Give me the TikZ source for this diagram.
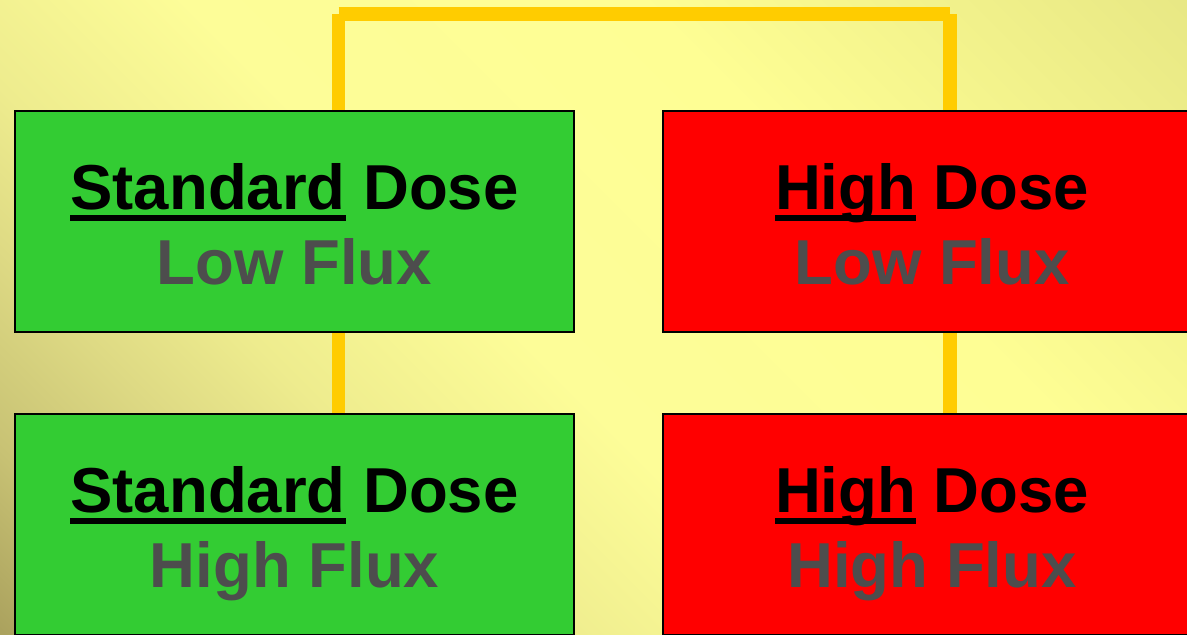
\documentclass[tikz,border=0pt]{standalone}
\usepackage{fontspec}
\setmainfont{Liberation Sans}
\usetikzlibrary{calc}
\definecolor{bgA}{HTML}{ABA25E}
\definecolor{bgB}{HTML}{C8C274}
\definecolor{bgC}{HTML}{DEDA84}
\definecolor{bgD}{HTML}{EEEC8E}
\definecolor{bgE}{HTML}{FDFD98}
\definecolor{bgF}{HTML}{FEFE94}
\definecolor{bgG}{HTML}{EAEA86}
\definecolor{bgH}{HTML}{E8E885}
\definecolor{boxgreen}{HTML}{33CC33}
\definecolor{boxred}{HTML}{FF0000}
\definecolor{fluxgray}{HTML}{4D4D4D}
\definecolor{connyellow}{HTML}{FFCC00}
\pgfdeclarehorizontalshading{slidebg}{100bp}{%
  color(0bp)=(bgA); color(14.64bp)=(bgA); color(21.71bp)=(bgB);
  color(29.49bp)=(bgC); color(35.85bp)=(bgD); color(46.46bp)=(bgE);
  color(64.14bp)=(bgF); color(83.23bp)=(bgG); color(85.35bp)=(bgH);
  color(100bp)=(bgH)}
\newcommand{\myul}[1]{\setbox0\hbox{#1}\rlap{\rule[-11pt]{\wd0}{6pt}}\box0\relax}
\tikzset{
  dosebox/.style={draw=black, line width=2pt, rectangle, inner sep=0pt,
    minimum height=221pt},
  greenbox/.style={dosebox, fill=boxgreen, minimum width=559pt},
  redbox/.style={dosebox, fill=boxred, minimum width=538pt},
  doseline/.style={font=\fontsize{63.5}{70}\selectfont\bfseries, text=black,
    anchor=base, inner sep=0pt},
  fluxline/.style={font=\fontsize{63.5}{70}\selectfont\bfseries, text=fluxgray,
    anchor=base, inner sep=0pt},
  conn/.style={draw=connyellow, line width=13.5pt}
}
\begin{document}
\begin{tikzpicture}[x=1pt,y=1pt]
\clip (0,0) rectangle (1187,635);
\shade[shading=slidebg, shading angle=45] (0,0) rectangle (1187,635);
% boxes
\node[greenbox] (sl) at (294.5,413.5) {};
\node[redbox]   (hl) at (932,413.5) {};
\node[greenbox] (sh) at (294.5,110.5) {};
\node[redbox]   (hh) at (932,110.5) {};
% connectors
\coordinate (topl) at (338.5,621);
\coordinate (topr) at (950,621);
\draw[conn] (sl.north -| topl) -- (topl);
\draw[conn] (topl) -- (topr);
\draw[conn] (topr) -- (hl.north -| topr);
\draw[conn] (sl.south -| topl) -- (sh.north -| topl);
\draw[conn] (hl.south -| topr) -- (hh.north -| topr);
% redraw boxes on top of connector ends
\node[greenbox] at (sl) {};
\node[redbox]   at (hl) {};
\node[greenbox] at (sh) {};
\node[redbox]   at (hh) {};
% texts
\node[doseline] (sl1) at (294.5,425) {\myul{Standard} Dose};
\node[fluxline] (sl2) at (294.5,350) {Low Flux};
\node[doseline] (hl1) at (932,425) {\myul{High} Dose};
\node[fluxline] (hl2) at (932,350) {Low Flux};
\node[doseline] (sh1) at (294.5,122) {\myul{Standard} Dose};
\node[fluxline] (sh2) at (294.5,47) {High Flux};
\node[doseline] (hh1) at (932,122) {\myul{High} Dose};
\node[fluxline] (hh2) at (932,47) {High Flux};
\end{tikzpicture}
\end{document}
